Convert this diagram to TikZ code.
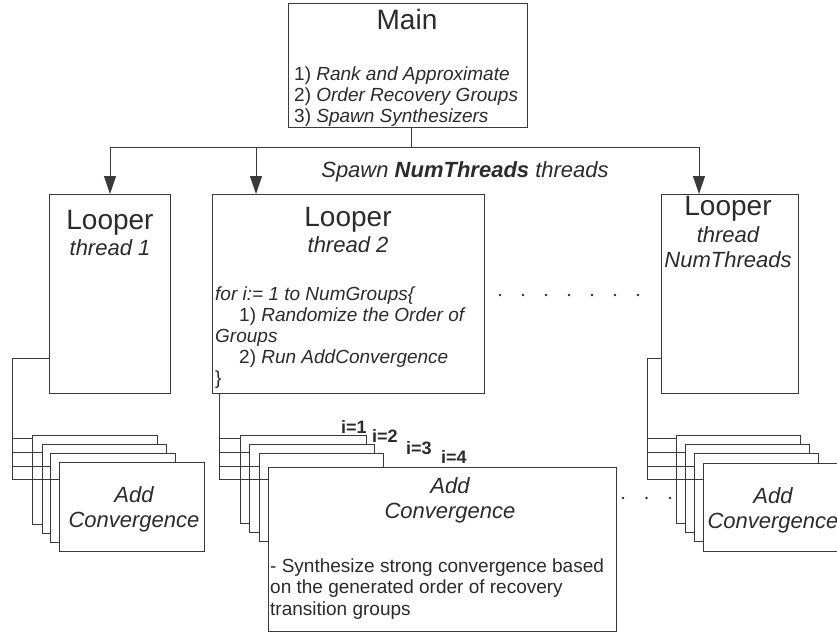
\documentclass[tikz,border=0pt]{standalone}
\usepackage{fontspec}
\setmainfont{Liberation Sans}
\usetikzlibrary{arrows.meta}
\definecolor{linec}{HTML}{3A3A3A}
\definecolor{txtc}{HTML}{2B2B2B}

\begin{document}
\begin{tikzpicture}[x=1pt,y=-1pt,
  box/.style={draw=linec, fill=white, line width=0.9pt, inner sep=0pt, outer sep=0pt, anchor=north west},
  wire/.style={draw=linec, line width=0.9pt},
  arr/.style={wire, -{Triangle[length=18pt,width=12pt]}},
  lbl/.style={inner sep=0pt, text=txtc, anchor=base},
  lbll/.style={lbl, anchor=base west},
  big/.style={font=\fontsize{28}{30}\selectfont},
  sub/.style={font=\fontsize{22}{24}\selectfont\itshape},
  body/.style={font=\fontsize{19}{21}\selectfont},
  ilab/.style={lbll, font=\fontsize{18}{20}\selectfont\bfseries},
]
\useasboundingbox (0,0) rectangle (837,635);
\clip (0,0) rectangle (837,635);

% ---------- main process ----------
\node[box, minimum width=239pt, minimum height=124pt] (main) at (288,3) {};
\node[lbl, big] (mainT) at (407,29) {Main};
\node[lbll, body] (m1) at (294,80) {1) \textit{Rank and Approximate}};
\node[lbll, body] (m2) at (294,101) {2) \textit{Order Recovery Groups}};
\node[lbll, body] (m3) at (294,122) {3) \textit{Spawn Synthesizers}};

% ---------- looper threads ----------
\node[box, minimum width=121pt, minimum height=199pt] (loop1) at (49,194) {};
\node[box, minimum width=272pt, minimum height=199pt] (loop2) at (212,194) {};
\node[box, minimum width=137pt, minimum height=199pt] (loop3) at (661,194) {};

\node[lbl, big] (l1a) at (110,229) {Looper};
\node[lbl, sub] (l1b) at (110,255) {thread 1};

\node[lbl, big] (l2a) at (348,226) {Looper};
\node[lbl, sub] (l2b) at (348,252) {thread 2};
\node[lbll, body] (f1) at (215,300) {\itshape for i:= 1 to NumGroups\{};
\node[lbll, body] (f2) at (239,321) {1) \textit{Randomize the Order of}};
\node[lbll, body] (f3) at (215,342) {\itshape Groups};
\node[lbll, body] (f4) at (239,363) {2) \textit{Run AddConvergence}};
\node[lbll, body] (f5) at (215,384) {\}};

\node[lbl, big] (l3a) at (728,215) {Looper};
\node[lbl, sub] (l3b) at (728,242) {thread};
\node[lbl, sub] (l3c) at (728,267) {NumThreads};

% ---------- spawning ----------
\coordinate (split) at (411,147);
\coordinate (br1) at (110,147);
\coordinate (br2) at (256,147);
\coordinate (br3) at (699,147);
\draw[wire] (main.south -| split) -- (split);
\draw[wire] (br1) -- (br3);
\draw[arr] (br1) -- (br1 |- loop1.north);
\draw[arr] (br2) -- (br2 |- loop2.north);
\draw[arr] (br3) -- (br3 |- loop3.north);
\node[lbl, font=\fontsize{22}{24}\selectfont] (spawn) at (465,177) {\textit{Spawn \textbf{NumThreads} threads}};

% ellipsis between threads
\foreach \k in {0,...,6} \fill[txtc] (500+23*\k,295) circle (1.3pt);

% ---------- AddConvergence stacks ----------
% left stack
\node[box, minimum width=125pt, minimum height=89pt] (sA1) at (32,435) {};
\node[box, minimum width=124pt, minimum height=89pt] (sA2) at (42,444) {};
\node[box, minimum width=125pt, minimum height=89pt] (sA3) at (50,453) {};
\node[box, minimum width=145pt, minimum height=89pt] (sA4) at (59,462) {};
\node[lbl, sub] (tA1) at (134,502) {Add};
\node[lbl, sub] (tA2) at (134,527) {Convergence};

% middle stack
\node[box, minimum width=126pt, minimum height=88pt] (sB1) at (240,435) {};
\node[box, minimum width=125pt, minimum height=88pt] (sB2) at (249,444) {};
\node[box, minimum width=124pt, minimum height=88pt] (sB3) at (259,453) {};
\node[box, minimum width=348pt, minimum height=164pt] (sB4) at (268,467) {};
\node[lbl, sub] (tB1) at (450,493) {Add};
\node[lbl, sub] (tB2) at (450,518) {Convergence};
\node[lbll, body] (d1) at (270,572) {- Synthesize strong convergence based};
\node[lbll, body] (d2) at (270,593) {on the generated order of recovery};
\node[lbll, body] (d3) at (270,615) {transition groups};

\node[ilab] (i1) at (341,433) {i=1};
\node[ilab] (i2) at (372,442) {i=2};
\node[ilab] (i3) at (406,454) {i=3};
\node[ilab] (i4) at (441,463) {i=4};

% right stack
\node[box, minimum width=124pt, minimum height=88pt] (sC1) at (676,435) {};
\node[box, minimum width=124pt, minimum height=88pt] (sC2) at (685,444) {};
\node[box, minimum width=124pt, minimum height=88pt] (sC3) at (694,453) {};
\node[box, minimum width=150pt, minimum height=88pt] (sC4) at (703,463) {};
\node[lbl, sub] (tC1) at (773,503) {Add};
\node[lbl, sub] (tC2) at (773,528) {Convergence};

\foreach \k in {0,1,2} \fill[txtc] (623+23.5*\k,498) circle (1.3pt);

% ---------- thread-to-stack wiring ----------
\coordinate (vA) at (12,358);
\coordinate (vAe) at (12,479);
\draw[wire] (vA -| loop1.west) -- (vA) -- (vAe);
\coordinate (vB) at (219,479);
\draw[wire] (vB |- loop2.south) -- (vB);
\coordinate (vC) at (647,358);
\coordinate (vCe) at (647,479);
\draw[wire] (vC -| loop3.west) -- (vC) -- (vCe);

\foreach \v/\s in {vAe/sA, vB/sB, vCe/sC}{
  \draw[wire] (\v |- 0,438) -- (\s1.west |- 0,438);
  \draw[wire] (\v |- 0,452) -- (\s2.west |- 0,452);
  \draw[wire] (\v |- 0,466) -- (\s3.west |- 0,466);
  \draw[wire] (\v |- 0,479) -- (\s4.west |- 0,479);
}
\end{tikzpicture}
\end{document}
